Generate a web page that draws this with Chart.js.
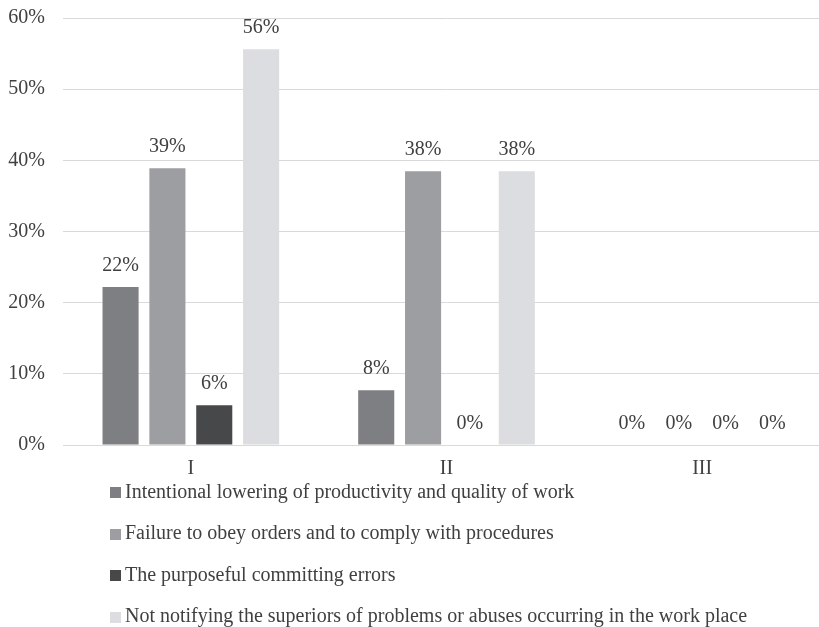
<!doctype html>
<html lang="en">
  <head>
    <meta charset="utf-8">
    <title>Counterproductive behaviour by group</title>
    <style>
      * {
        margin: 0;
        padding: 0;
      }
      body {
        width: 819px;
        height: 627px;
        overflow: hidden;
        background: #ffffff;
      }
      .chartBox {
        width: 830px;
        height: 627px;
      }
    </style>
  </head>
  <body>
    <div class="chartBox">
      <canvas id="myChart" width="830" height="627"></canvas>
    </div>
    <script src="https://cdn.jsdelivr.net/npm/chart.js"></script>
    <script>
    // data
    const groups = ['I', 'II', 'III'];
    const seriesNames = [
      'Intentional lowering of productivity and quality of work',
      'Failure to obey orders and to comply with procedures',
      'The purposeful committing errors',
      'Not notifying the superiors of problems or abuses occurring in the work place'
    ];
    const loweringProductivity = [22.2, 7.7, 0];
    const failureToObey = [38.9, 38.46, 0];
    const purposefulErrors = [5.6, 0, 0];
    const notNotifying = [55.6, 38.46, 0];
    const yTicks = [0, 10, 20, 30, 40, 50, 60];

    const colours = ['#7e7f83', '#9d9ea2', '#47484a', '#dcdde0'];
    const serif = "'Liberation Serif', 'Times New Roman', serif";
    const textColour = '#404040';

    const data = {
      labels: groups,
      datasets: [loweringProductivity, failureToObey, purposefulErrors, notNotifying].map((values, i) => ({
        label: seriesNames[i],
        data: values,
        backgroundColor: colours[i],
        borderWidth: 0,
        barPercentage: 0.77,
        categoryPercentage: 0.733
      }))
    };

    // value labels above every bar
    const valueLabels = {
      id: 'valueLabels',
      afterDatasetsDraw(chart) {
        const { ctx } = chart;
        ctx.save();
        ctx.font = '20px ' + serif;
        ctx.fillStyle = textColour;
        ctx.textAlign = 'center';
        ctx.textBaseline = 'alphabetic';
        chart.data.datasets.forEach((dataset, i) => {
          chart.getDatasetMeta(i).data.forEach((bar, index) => {
            const value = dataset.data[index];
            ctx.fillText(Math.round(value) + '%', bar.x, bar.y - 16);
          });
        });
        ctx.restore();
      }
    };

    // legend as a vertical list under the axis
    const listLegend = {
      id: 'listLegend',
      afterDraw(chart) {
        const { ctx } = chart;
        ctx.save();
        ctx.font = '20px ' + serif;
        ctx.textAlign = 'left';
        ctx.textBaseline = 'middle';
        chart.data.datasets.forEach((dataset, i) => {
          const y = 492.5 + i * 41.5;
          ctx.fillStyle = dataset.backgroundColor;
          ctx.fillRect(110, Math.round(y - 5.5), 11, 11);
          ctx.fillStyle = textColour;
          ctx.fillText(dataset.label, 125, y);
        });
        ctx.restore();
      }
    };

    const config = {
      type: 'bar',
      data,
      options: {
        responsive: false,
        animation: false,
        layout: {
          padding: { top: 18, left: 0, right: 0, bottom: 134 }
        },
        scales: {
          x: {
            grid: { display: false, drawTicks: false },
            border: { display: false },
            ticks: {
              color: textColour,
              font: { family: serif, size: 20 },
              padding: 12
            }
          },
          y: {
            min: 0,
            max: 60,
            afterBuildTicks(scale) {
              scale.ticks = yTicks.map(v => ({ value: v }));
            },
            grid: { color: '#d9d9d9', lineWidth: 1, drawTicks: false },
            border: { display: false },
            ticks: {
              color: textColour,
              font: { family: serif, size: 20 },
              padding: 18,
              callback: (v) => v + '%'
            },
            afterFit(scale) {
              scale.width = 63;
              scale.paddingTop = 0;
              scale.paddingBottom = 0;
            }
          }
        },
        plugins: {
          legend: { display: false },
          tooltip: { enabled: false }
        }
      },
      plugins: [valueLabels, listLegend]
    };

    const myChart = new Chart(document.getElementById('myChart'), config);
    </script>
  </body>
</html>
